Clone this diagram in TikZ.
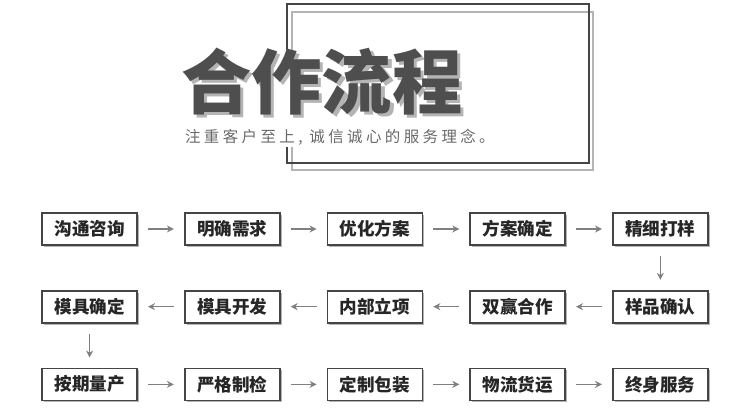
\documentclass[tikz,border=0pt]{standalone}
\usepackage{fontspec}
\newfontfamily\cjk{Noto Sans CJK SC}
\usetikzlibrary{arrows.meta, positioning, shadows}
\definecolor{boxgray}{HTML}{454545}
\definecolor{titlegray}{HTML}{4E4E4E}
\definecolor{shadegray}{HTML}{B4B4B4}
\definecolor{subgray}{HTML}{6A6A6A}
\tikzstyle{arrow} = [draw=gray, line width=0.9pt, -{Stealth[length=5pt,width=5pt]}, shorten >=0.25cm, shorten <=0.25cm]
\newcommand{\shadowtext}[1]{\rlap{\hspace{2.2pt}\raisebox{-2.2pt}{\textcolor{shadegray}{#1}}}#1}

\begin{document}
\begin{tikzpicture}[
        node distance=1.1cm and 1.15cm,
        stepbox/.style={rectangle, draw=boxgray, line width=1.2pt, fill=white, minimum width=2.375cm, minimum height=0.8cm, inner sep=0pt, text=black!85, font=\cjk\bfseries\fontsize{12.5}{14}\selectfont, drop shadow={shadow xshift=1.3pt, shadow yshift=-1.3pt, fill=shadegray, opacity=1}},
        headline/.style={font=\cjk\bfseries\fontsize{50}{54}\selectfont, inner sep=0pt, text=titlegray}
        ]

        \useasboundingbox (0,0) rectangle (18.75,10.425);

        % frame behind the heading
        \draw[shadegray, line width=0.8pt] (7.3,10.125) rectangle (14.825,6.175);
        \draw[boxgray, line width=0.8pt] (7.175,10.325) rectangle (14.725,6.35);
        \fill[white] (4.4,9.175) rectangle (12.65,6.75);

        \node[headline] (title) at (8.05,8.35) {\shadowtext{合作流程}};
        \node[anchor=west, inner sep=0pt, text=subgray, font=\cjk\fontsize{11}{13}\selectfont\addfontfeatures{LetterSpace=22}] (motto) at (4.62,7.0) {注重客户至上, 诚信诚心的服务理念。};

        % first row
        \node[stepbox] (talk) at (2.24,4.7) {沟通咨询};
        \node[stepbox, right=of talk] (needs) {明确需求};
        \node[stepbox, right=of needs] (plan) {优化方案};
        \node[stepbox, right=of plan] (plan_ok) {方案确定};
        \node[stepbox, right=of plan_ok] (sample) {精细打样};

        % second row
        \node[stepbox, below=of sample] (sample_ok) {样品确认};
        \node[stepbox, left=of sample_ok] (deal) {双赢合作};
        \node[stepbox, left=of deal] (project) {内部立项};
        \node[stepbox, left=of project] (mould) {模具开发};
        \node[stepbox, left=of mould] (mould_ok) {模具确定};

        % third row
        \node[stepbox, below=of mould_ok] (mass) {按期量产};
        \node[stepbox, right=of mass] (check) {严格制检};
        \node[stepbox, right=of check] (pack) {定制包装};
        \node[stepbox, right=of pack] (ship) {物流货运};
        \node[stepbox, right=of ship] (service) {终身服务};

        \draw[arrow] (talk) -- (needs);
        \draw[arrow] (needs) -- (plan);
        \draw[arrow] (plan) -- (plan_ok);
        \draw[arrow] (plan_ok) -- (sample);
        \draw[arrow] (sample) -- (sample_ok);
        \draw[arrow] (sample_ok) -- (deal);
        \draw[arrow] (deal) -- (project);
        \draw[arrow] (project) -- (mould);
        \draw[arrow] (mould) -- (mould_ok);
        \draw[arrow] (mould_ok) -- (mass);
        \draw[arrow] (mass) -- (check);
        \draw[arrow] (check) -- (pack);
        \draw[arrow] (pack) -- (ship);
        \draw[arrow] (ship) -- (service);

    \end{tikzpicture}
\end{document}
